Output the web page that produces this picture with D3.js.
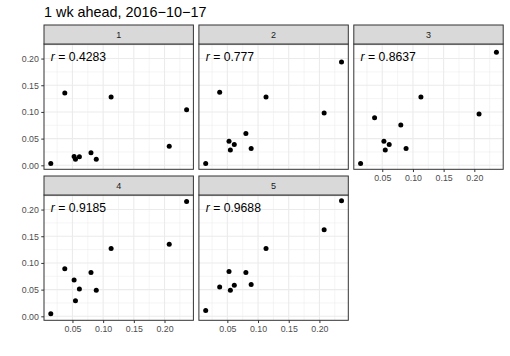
<!DOCTYPE html>
<meta charset="utf-8">
<style>
    body { margin: 0; background: #fff; }
    svg text { font-family: "Liberation Sans", Arial, sans-serif; }
    .tick text { fill: #4D4D4D; font-size: 8.8px; }
    .tick line { stroke: #333333; }
    .domain { display: none; }
</style>
<svg id="chart" width="510" height="356"></svg>
<script src="https://cdn.jsdelivr.net/npm/d3@7"></script>
<script>

    // observed values (shared x across panels)
    var obs = [0.0147, 0.0375, 0.0527, 0.0549, 0.0613, 0.0802, 0.0888, 0.1130, 0.2077, 0.2360];

    // predicted values per horizon panel
    var pred1 = [0.0032, 0.1355, 0.0165, 0.0114, 0.0160, 0.0235, 0.0114, 0.1280, 0.0355, 0.1040];
    var pred2 = [0.0032, 0.1370, 0.0450, 0.0285, 0.0390, 0.0595, 0.0317, 0.1280, 0.0980, 0.1935];
    var pred3 = [0.0032, 0.0890, 0.0450, 0.0285, 0.0390, 0.0753, 0.0317, 0.1280, 0.0960, 0.2120];
    var pred4 = [0.0050, 0.0890, 0.0680, 0.0290, 0.0510, 0.0820, 0.0487, 0.1270, 0.1350, 0.2150];
    var pred5 = [0.0110, 0.0548, 0.0838, 0.0487, 0.0580, 0.0820, 0.0598, 0.1270, 0.1624, 0.2166];

    var panelNames = ["1", "2", "3", "4", "5"];
    var corrLabels = ["0.4283", "0.777", "0.8637", "0.9185", "0.9688"];
    var xTicks = [0.05, 0.10, 0.15, 0.20];
    var yTicks = [0.00, 0.05, 0.10, 0.15, 0.20];
    var title = "1 wk ahead, 2016\u221210\u221217";

    var preds = [pred1, pred2, pred3, pred4, pred5];

    // layout
    var marginL = 44, pw = 149.4, gapX = 5.5;
    var marginT = 25, stripH = 19, ph = 125.3, rowStep = 151;
    var ncol = 3;

    // shared scales with 5% expansion like ggplot
    function padded(ext) {
        var d = (ext[1] - ext[0]) * 0.05;
        return [ext[0] - d, ext[1] + d];
    }
    var allY = [].concat.apply([], preds);
    var xScale = d3.scaleLinear().domain(padded(d3.extent(obs))).range([0, pw]);
    var yScale = d3.scaleLinear().domain(padded(d3.extent(allY))).range([ph, 0]);

    function minorBreaks(major, dom) {
        var step = major[1] - major[0];
        var out = [];
        for (var i = -1; i < major.length; i++) {
            var v = (i < 0 ? major[0] - step / 2 : major[i] + step / 2);
            if (v >= dom[0] && v <= dom[1]) out.push(v);
        }
        return out;
    }
    var xMinor = minorBreaks(xTicks, xScale.domain());
    var yMinor = minorBreaks(yTicks, yScale.domain());

    var svg = d3.select("#chart");

    svg.append("text")
        .attr("x", marginL)
        .attr("y", 16.7)
        .style("font-size", "14.4px")
        .style("fill", "#000")
        .text(title);

    panelNames.forEach(function(name, i) {
        var col = i % ncol, row = Math.floor(i / ncol);
        var px = marginL + col * (pw + gapX);
        var py = marginT + row * rowStep + stripH;
        var g = svg.append("g").attr("transform", "translate(" + px + "," + py + ")");

        // grid
        g.selectAll(".minx").data(xMinor).enter().append("line")
            .attr("x1", d => xScale(d)).attr("x2", d => xScale(d))
            .attr("y1", 0).attr("y2", ph)
            .style("stroke", "#EBEBEB").style("stroke-width", 0.55);
        g.selectAll(".miny").data(yMinor).enter().append("line")
            .attr("y1", d => yScale(d)).attr("y2", d => yScale(d))
            .attr("x1", 0).attr("x2", pw)
            .style("stroke", "#EBEBEB").style("stroke-width", 0.55);
        g.selectAll(".majx").data(xTicks).enter().append("line")
            .attr("x1", d => xScale(d)).attr("x2", d => xScale(d))
            .attr("y1", 0).attr("y2", ph)
            .style("stroke", "#EBEBEB").style("stroke-width", 1.1);
        g.selectAll(".majy").data(yTicks).enter().append("line")
            .attr("y1", d => yScale(d)).attr("y2", d => yScale(d))
            .attr("x1", 0).attr("x2", pw)
            .style("stroke", "#EBEBEB").style("stroke-width", 1.1);

        // points
        g.selectAll("circle")
            .data(obs.map((x, j) => [x, preds[i][j]]))
            .enter()
            .append("circle")
            .attr("cx", d => xScale(d[0]))
            .attr("cy", d => yScale(d[1]))
            .attr("r", 2.5)
            .style("fill", "#000");

        // correlation label
        var lab = g.append("text")
            .attr("x", xScale(d3.min(obs)))
            .attr("y", yScale(0.2) + 2.5)
            .style("font-size", "12.2px")
            .style("fill", "#000");
        lab.append("tspan").style("font-style", "italic").text("r");
        lab.append("tspan").text(" = " + corrLabels[i]);

        // panel border
        g.append("rect")
            .attr("width", pw).attr("height", ph)
            .style("fill", "none").style("stroke", "#333333").style("stroke-width", 1);

        // strip
        var strip = svg.append("g").attr("transform", "translate(" + px + "," + (py - stripH) + ")");
        strip.append("rect")
            .attr("width", pw).attr("height", stripH)
            .style("fill", "#D9D9D9").style("stroke", "#333333").style("stroke-width", 1);
        strip.append("text")
            .attr("x", pw / 2).attr("y", stripH / 2)
            .attr("dy", "0.35em")
            .attr("text-anchor", "middle")
            .style("font-size", "9px")
            .style("fill", "#1A1A1A")
            .text(name);

        // y axis on first column
        if (col === 0) {
            g.append("g")
                .call(d3.axisLeft(yScale).tickValues(yTicks).tickFormat(d3.format(".2f"))
                    .tickSize(2.75).tickPadding(2.4));
        }
        // x axis on bottom of each column
        var below = i + ncol;
        if (below >= panelNames.length) {
            g.append("g")
                .attr("transform", "translate(0," + ph + ")")
                .call(d3.axisBottom(xScale).tickValues(xTicks).tickFormat(d3.format(".2f"))
                    .tickSize(2.75).tickPadding(2.4));
        }
    });

</script>
